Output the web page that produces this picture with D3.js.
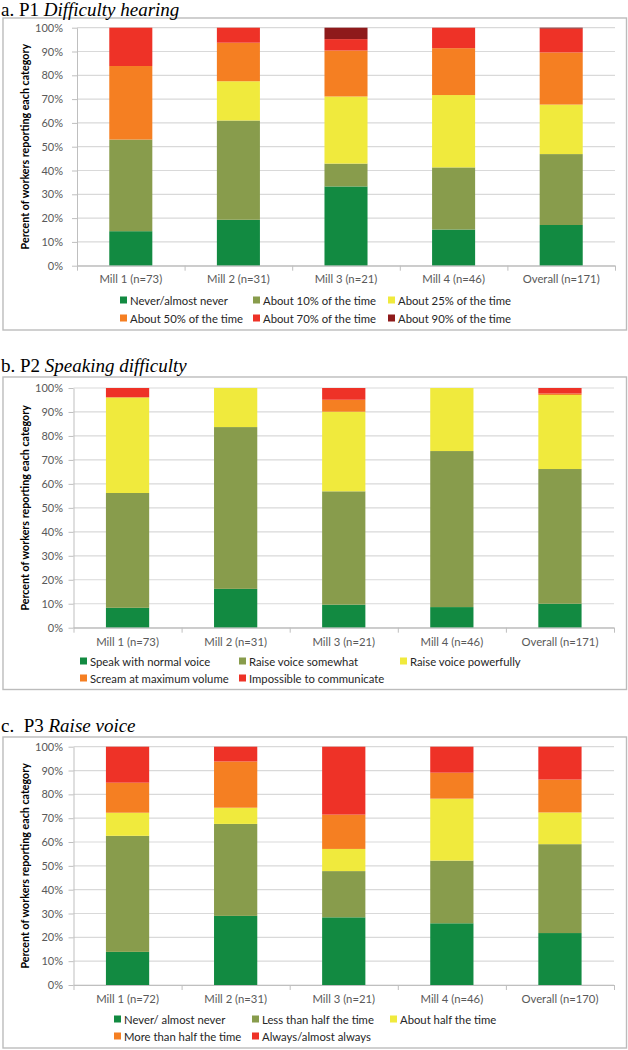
<!DOCTYPE html>
<html><head><meta charset="utf-8">
<script src="https://cdn.jsdelivr.net/npm/d3@7"></script>
<style>body{margin:0;background:#fff}</style>
</head><body><svg id="c" width="628" height="1050"></svg>
<script>
// ---------- DATA ----------
const categoriesA = ["Mill 1 (n=73)", "Mill 2 (n=31)", "Mill 3 (n=21)", "Mill 4 (n=46)", "Overall (n=171)"];
const categoriesB = ["Mill 1 (n=73)", "Mill 2 (n=31)", "Mill 3 (n=21)", "Mill 4 (n=46)", "Overall (n=171)"];
const categoriesC = ["Mill 1 (n=72)", "Mill 2 (n=31)", "Mill 3 (n=21)", "Mill 4 (n=46)", "Overall (n=170)"];

const seriesA = ["Never/almost never", "About 10% of the time", "About 25% of the time",
                 "About 50% of the time", "About 70% of the time", "About 90% of the time"];
const seriesB = ["Speak with normal voice", "Raise voice somewhat", "Raise voice powerfully",
                 "Scream at maximum volume", "Impossible to communicate"];
const seriesC = ["Never/ almost never", "Less than half the time", "About half the time",
                 "More than half the time", "Always/almost always"];

// percent per series, one value per category
const valuesA = [
  [14.5, 19.3, 33.3, 15.2, 17.1],
  [38.5, 41.7,  9.6, 26.1, 29.8],
  [ 0.0, 16.5, 28.2, 30.4, 20.8],
  [30.9, 16.2, 19.3, 19.7, 21.9],
  [16.1,  6.3,  4.8,  8.6, 10.0],
  [ 0.0,  0.0,  4.8,  0.0,  0.4]
];
const valuesB = [
  [ 8.3, 16.2,  9.6,  8.6, 10.0],
  [47.9, 67.5, 47.3, 65.1, 56.2],
  [39.9, 16.3, 33.2, 26.3, 30.9],
  [ 0.0,  0.0,  5.0,  0.0,  0.6],
  [ 3.9,  0.0,  4.9,  0.0,  2.3]
];
const valuesC = [
  [13.9, 29.0, 28.4, 25.9, 21.8],
  [48.7, 38.6, 19.4, 26.3, 37.3],
  [ 9.7,  6.8,  9.3, 26.0, 13.3],
  [12.6, 19.4, 14.4, 10.9, 13.8],
  [15.1,  6.2, 28.5, 10.9, 13.8]
];

const yTicks = [0, 10, 20, 30, 40, 50, 60, 70, 80, 90, 100];
const yTitle = "Percent of workers reporting each category";

const titlesPrefix = ["a. P1 ", "b. P2 ", "c.\u00A0 P3 "];
const titlesItalic = ["Difficulty hearing", "Speaking difficulty", "Raise voice"];

const colorsA = ["#128a41", "#889c4c", "#f0ea3d", "#f57f22", "#ee3227", "#8e1a1b"];
const colorsB = ["#128a41", "#889c4c", "#f0ea3d", "#f57f22", "#ee3227"];
const colorsC = ["#128a41", "#889c4c", "#f0ea3d", "#f57f22", "#ee3227"];

// ---------- LAYOUT ----------
const layouts = [
  {titleY: 16, boxTop: 18, boxBottom: 330, plotTop: 27.7, plotBottom: 265.7, left: 77, right: 615,
   labelY: 279, legendRows: [300, 318], legendCols: [120, 253, 388]},
  {titleY: 371.7, boxTop: 377, boxBottom: 689.5, plotTop: 388, plotBottom: 627.7, left: 73.5, right: 614,
   labelY: 641.7, legendRows: [661, 678], legendCols: [80, 239, 400]},
  {titleY: 731.7, boxTop: 737, boxBottom: 1048, plotTop: 746.7, plotBottom: 985, left: 73.5, right: 614,
   labelY: 999, legendRows: [1019, 1036], legendCols: [114, 252, 390]}
];

const panels = [
  {cats: categoriesA, series: seriesA, values: valuesA, colors: colorsA},
  {cats: categoriesB, series: seriesB, values: valuesB, colors: colorsB},
  {cats: categoriesC, series: seriesC, values: valuesC, colors: colorsC}
];

const svg = d3.select("#c");
svg.append("rect").attr("width", 628).attr("height", 1050).attr("fill", "#fff");

const sansFont = "Lato, 'Open Sans', sans-serif";

panels.forEach((p, pi) => {
  const L = layouts[pi];
  const g = svg.append("g");

  // box
  g.append("rect").attr("x", 3).attr("y", L.boxTop)
    .attr("width", 623.5).attr("height", L.boxBottom - L.boxTop)
    .attr("fill", "none").attr("stroke", "#bcbcbc").attr("stroke-width", 1.4);

  // title
  const t = svg.append("text").attr("x", 1).attr("y", L.titleY)
    .attr("font-family", "'Liberation Serif', 'DejaVu Serif', serif").attr("font-size", 19).attr("fill", "#000")
    .attr("xml:space", "preserve");
  t.append("tspan").text(titlesPrefix[pi]);
  t.append("tspan").attr("font-style", "italic").text(titlesItalic[pi]);

  const x = d3.scaleBand().domain(p.cats).range([L.left, L.right]).paddingInner(0.6).paddingOuter(0.3);
  const y = d3.scaleLinear().domain([0, 100]).range([L.plotBottom, L.plotTop]);

  // gridlines
  g.append("g").selectAll("line").data(yTicks).join("line")
    .attr("x1", L.left).attr("x2", L.right)
    .attr("y1", d => y(d)).attr("y2", d => y(d))
    .attr("stroke", "#d9d9d9").attr("stroke-width", 1.2);

  // y axis
  const ya = g.append("g").attr("transform", `translate(${L.left},0)`)
    .call(d3.axisLeft(y).tickValues(yTicks).tickFormat(d => d + "%")
      .tickSizeInner(5).tickSizeOuter(0).tickPadding(L.left - 63 - 5));
  ya.select(".domain").attr("stroke", "#bfbfbf");
  ya.selectAll(".tick line").attr("stroke", "#bfbfbf");
  ya.selectAll("text").attr("font-family", sansFont).attr("font-size", 11).attr("fill", "#595959");

  // y title
  g.append("text")
    .attr("transform", `translate(24.5,${(L.plotTop + L.plotBottom) / 2}) rotate(-90)`)
    .attr("text-anchor", "middle").attr("dominant-baseline", "central")
    .attr("font-family", sansFont).attr("font-weight", "bold").attr("font-size", 10.7).attr("fill", "#000")
    .text(yTitle);

  // bars
  const rows = p.cats.map((c, i) => {
    const r = {cat: c};
    p.series.forEach((s, j) => r[s] = p.values[j][i]);
    return r;
  });
  const stacked = d3.stack().keys(p.series)(rows);
  g.append("g").selectAll("g").data(stacked).join("g")
    .attr("fill", (d, i) => p.colors[i])
    .selectAll("rect").data(d => d).join("rect")
    .attr("x", d => x(d.data.cat))
    .attr("width", x.bandwidth())
    .attr("y", d => y(d[1]))
    .attr("height", d => Math.max(0, y(d[0]) - y(d[1])));

  // x axis: category labels
  const xa = g.append("g").attr("transform", `translate(0,${L.plotBottom})`)
    .call(d3.axisBottom(x).tickSize(0).tickPadding(L.labelY - L.plotBottom - 4));
  xa.select(".domain").attr("stroke", "#bfbfbf").attr("stroke-width", 1.2);
  xa.selectAll("text").attr("font-family", sansFont).attr("font-size", 11.3).attr("fill", "#595959");

  // x boundary ticks
  const xb = d3.scaleLinear().domain([0, p.cats.length]).range([L.left, L.right]);
  const xt = g.append("g").attr("transform", `translate(0,${L.plotBottom})`)
    .call(d3.axisBottom(xb).tickValues(d3.range(p.cats.length + 1)).tickFormat("").tickSizeInner(5).tickSizeOuter(0));
  xt.select(".domain").remove();
  xt.selectAll(".tick line").attr("stroke", "#bfbfbf");

  // legend
  const leg = g.append("g");
  p.series.forEach((s, i) => {
    const row = Math.floor(i / 3), col = i % 3;
    const lx = L.legendCols[col], ly = L.legendRows[row];
    leg.append("rect").attr("x", lx).attr("y", ly - 3.5).attr("width", 7).attr("height", 7).attr("fill", p.colors[i]);
    leg.append("text").attr("x", lx + 10).attr("y", ly).attr("dominant-baseline", "central")
      .attr("font-family", sansFont).attr("font-size", 11.3).attr("fill", "#262626").text(s);
  });
});
</script>
</body></html>
